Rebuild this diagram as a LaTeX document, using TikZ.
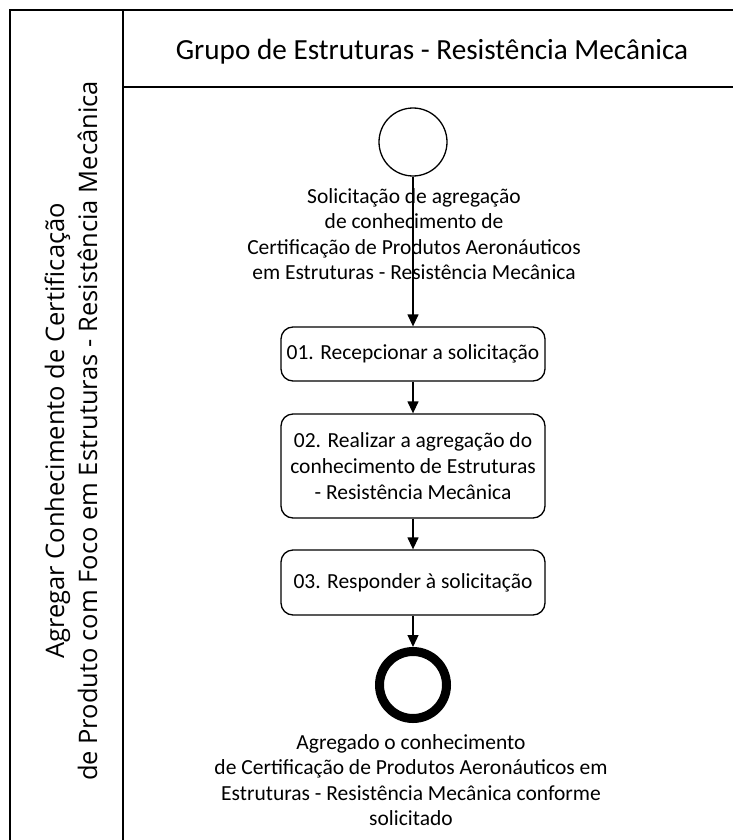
\documentclass[tikz,border=0pt]{standalone}
\usepackage{fontspec}
\setmainfont{Carlito}
\newfontfamily\lanefont{Open Sans}
\usetikzlibrary{arrows.meta}
\begin{document}
\begin{tikzpicture}[x=1pt,y=-1pt,
  lane/.style={line width=2pt},
  task/.style={draw, line width=1.3pt, rounded corners=12pt, minimum width=264pt, inner sep=0pt, align=center, font=\fontsize{21.5}{26}\selectfont},
  flow/.style={line width=1.3pt, -{Triangle[length=12pt,width=11pt]}},
  lbl/.style={align=center, inner sep=0pt, font=\fontsize{21.5}{25.3}\selectfont}]
\useasboundingbox (0,0) rectangle (732,840);
\draw[lane] (10,845) -- (10,10) -- (737,10);
\draw[lane] (123,10) -- (123,845);
\draw[lane] (123,87) -- (737,87);
\node[anchor=base, inner sep=0pt, font=\fontsize{29.2}{32}\selectfont] (title) at (432,60) {Grupo de Estruturas - Resistência Mecânica};
\node[rotate=90, align=center, inner sep=0pt, font=\lanefont\fontsize{25.5}{33}\selectfont] (lanelbl) at (71,431) {Agregar Conhecimento de Certificação\\de Produto com Foco em Estruturas - Resistência Mecânica};

\node[draw, circle, line width=1.3pt, minimum size=68pt, inner sep=0pt] (start) at (413,142) {};
\node[lbl] (startlbl) at (414,234) {Solicitação de agregação\\de conhecimento de\\Certificação de Produtos Aeronáuticos\\em Estruturas - Resistência Mecânica};

\node[task, minimum height=54pt] (t1) at (413,354) {01. Recepcionar a solicitação};
\node[task, minimum height=104pt] (t2) at (413,466) {02. Realizar a agregação do\\conhecimento de Estruturas\\- Resistência Mecânica};
\node[task, minimum height=65pt] (t3) at (413,582.5) {03. Responder à solicitação};

\node[draw, circle, line width=9pt, minimum size=67pt, inner sep=0pt] (end) at (413,685) {};
\node[lbl] (endlbl) at (411,780) {Agregado o conhecimento\\de Certificação de Produtos Aeronáuticos em\\Estruturas - Resistência Mecânica conforme\\solicitado};

\draw[flow] (start) -- (t1);
\draw[flow] (t1) -- (t2);
\draw[flow] (t2) -- (t3);
\draw[flow] (t3) -- (end);
\end{tikzpicture}
\end{document}
